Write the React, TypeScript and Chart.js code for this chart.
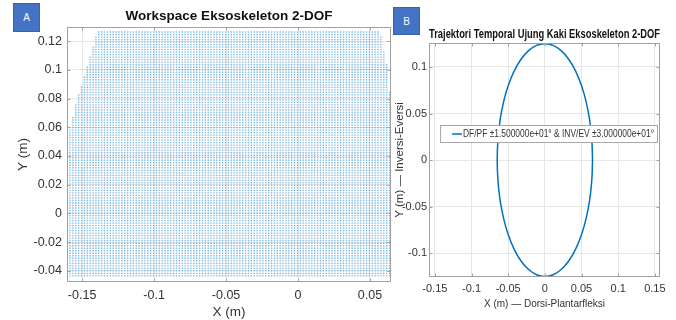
import React, { useEffect, useRef } from "react";
import { Chart, registerables } from "chart.js";
Chart.register(...registerables);

const wsXTicks = [-0.15, -0.1, -0.05, 0, 0.05];
const wsYTicks = [-0.04, -0.02, 0, 0.02, 0.04, 0.06, 0.08, 0.1, 0.12];
const wsRowTop = 0.1263;
const wsRowBottom = -0.0432;
const wsRowStep = 0.00175;
const wsColStart = -0.1624;
const wsColStep = 0.002;
const wsEdgeY = [0.1263, 0.1, 0.08, 0.06, 0.05, -0.05];
const wsEdgeLeftX = [-0.1396, -0.147, -0.1535, -0.1583, -0.1615, -0.1615];
const wsEdgeRightX = [0.057, 0.0625, 0.064, 0.0645, 0.0645, 0.0645];

// ---------- Panel B: foot-tip trajectory ----------
const trajX = [0.065, 0.064, 0.0611, 0.0563, 0.0498, 0.0418, 0.0325, 0.0222, 0.0113, 0, -0.0113, -0.0222, -0.0325, -0.0418, -0.0498, -0.0563, -0.0611, -0.064, -0.065, -0.064, -0.0611, -0.0563, -0.0498, -0.0418, -0.0325, -0.0222, -0.0113, 0, 0.0113, 0.0222, 0.0325, 0.0418, 0.0498, 0.0563, 0.0611, 0.064, 0.065];
const trajY = [0, 0.0217, 0.0428, 0.0625, 0.0803, 0.0958, 0.1083, 0.1175, 0.1231, 0.125, 0.1231, 0.1175, 0.1083, 0.0958, 0.0803, 0.0625, 0.0428, 0.0217, 0, -0.0217, -0.0428, -0.0625, -0.0803, -0.0958, -0.1083, -0.1175, -0.1231, -0.125, -0.1231, -0.1175, -0.1083, -0.0958, -0.0803, -0.0625, -0.0428, -0.0217, 0];
const trajXTicks = [-0.15, -0.1, -0.05, 0, 0.05, 0.1, 0.15];
const trajYTicks = [-0.1, -0.05, 0, 0.05, 0.1];
const trajLabel = "DF/PF ±1.500000e+01° & INV/EV ±3.000000e+01°";

const SANS = "'Liberation Sans', Arial, sans-serif";
const NARROW = "'Liberation Sans Narrow', 'Arial Narrow', 'Liberation Sans', Arial, sans-serif";
const TEXT = "#333333";
const GRID = "#e6e6e6";
const FRAME = "#a0a0a0";

function edgeAt(y: number, xs: number[]) {
  for (let i = 0; i < wsEdgeY.length - 1; i++) {
    const y0 = wsEdgeY[i], y1 = wsEdgeY[i + 1];
    if (y <= y0 && y >= y1) {
      const t = (y - y0) / (y1 - y0);
      return xs[i] + t * (xs[i + 1] - xs[i]);
    }
  }
  return xs[xs.length - 1];
}

function buildWorkspace() {
  const pts: { x: number; y: number }[] = [];
  const nRows = Math.round((wsRowTop - wsRowBottom) / wsRowStep);
  const nCols = Math.round((0.066 - wsColStart) / wsColStep);
  for (let r = 0; r <= nRows; r++) {
    const y = wsRowTop - r * wsRowStep;
    const l = edgeAt(y, wsEdgeLeftX);
    const rt = edgeAt(y, wsEdgeRightX);
    for (let c = 0; c <= nCols; c++) {
      const x = wsColStart + c * wsColStep;
      if (x >= l && x <= rt) pts.push({ x, y });
    }
  }
  return pts;
}

const fmt = (v: any) => String(+Number(v).toFixed(4));

const framePlugin = {
  id: "frame",
  afterDatasetsDraw(chart: any) {
    const { ctx, chartArea: a, scales } = chart;
    const L = Math.round(a.left) + 0.5, R = Math.round(a.right) - 0.5;
    const T = Math.round(a.top) + 0.5, B = Math.round(a.bottom) - 0.5;
    ctx.save();
    ctx.strokeStyle = FRAME;
    ctx.lineWidth = 1;
    ctx.strokeRect(L, T, R - L, B - T);
    const tl = 3;
    ctx.beginPath();
    scales.x.ticks.forEach((t: any) => {
      const px = Math.round(scales.x.getPixelForValue(t.value)) + 0.5;
      ctx.moveTo(px, B); ctx.lineTo(px, B - tl);
      ctx.moveTo(px, T); ctx.lineTo(px, T + tl);
    });
    scales.y.ticks.forEach((t: any) => {
      const py = Math.round(scales.y.getPixelForValue(t.value)) + 0.5;
      ctx.moveTo(L, py); ctx.lineTo(L + tl, py);
      ctx.moveTo(R, py); ctx.lineTo(R - tl, py);
    });
    ctx.stroke();
    ctx.restore();
  },
};

const insideLegend = {
  id: "insideLegend",
  afterDraw(chart: any) {
    const { ctx, chartArea: a } = chart;
    const ds = chart.data.datasets[0];
    const x = Math.round(a.left) + 11, y = Math.round(a.top) + 82, w = 217, h = 17;
    ctx.save();
    ctx.fillStyle = "#ffffff";
    ctx.fillRect(x, y, w, h);
    ctx.strokeStyle = "#a8a8a8";
    ctx.lineWidth = 1;
    ctx.strokeRect(x + 0.5, y + 0.5, w, h);
    ctx.strokeStyle = ds.borderColor;
    ctx.lineWidth = 1.5;
    ctx.beginPath();
    ctx.moveTo(x + 12, y + h / 2 + 0.5);
    ctx.lineTo(x + 22, y + h / 2 + 0.5);
    ctx.stroke();
    ctx.fillStyle = TEXT;
    ctx.font = `10px ${NARROW}`;
    ctx.textBaseline = "middle";
    ctx.textAlign = "left";
    ctx.fillText(ds.label, x + 23, y + h / 2 + 1, 191);
    ctx.restore();
  },
};

function WorkspaceChart() {
  const ref = useRef<HTMLCanvasElement>(null);
  useEffect(() => {
    const chart = new Chart(ref.current as HTMLCanvasElement, {
      type: "scatter",
      data: {
        datasets: [
          {
            label: "Workspace",
            data: buildWorkspace(),
            pointStyle: "rect",
            pointRadius: 0.95,
            pointHoverRadius: 0,
            pointBorderWidth: 0,
            backgroundColor: "rgba(30,135,205,0.62)",
            borderColor: "rgba(0,0,0,0)",
          } as any,
        ],
      },
      options: {
        animation: false,
        responsive: false,
        devicePixelRatio: 1,
        parsing: false,
        normalized: true,
        events: [],
        layout: { padding: { left: 0, right: 4, top: 0, bottom: 0 } },
        plugins: {
          legend: { display: false },
          tooltip: { enabled: false },
          title: {
            display: true,
            text: "Workspace Eksoskeleton 2-DOF",
            fullSize: false,
            color: "#111111",
            font: { family: SANS, size: 13.5, weight: "bold" },
            padding: { top: 8, bottom: 2.8 },
          },
        },
        scales: {
          x: {
            type: "linear",
            min: -0.1605,
            max: 0.0646,
            afterBuildTicks: (s: any) => { s.ticks = wsXTicks.map((v) => ({ value: v })); },
            afterFit: (s: any) => { s.height = 38; },
            grid: { color: GRID, drawTicks: false },
            border: { display: false },
            ticks: { color: TEXT, padding: 6, font: { family: SANS, size: 12.5 }, callback: fmt, maxRotation: 0 },
            title: { display: true, text: "X (m)", color: TEXT, font: { family: SANS, size: 13.5 }, padding: { top: 0, bottom: 0 } },
          },
          y: {
            type: "linear",
            min: -0.0477,
            max: 0.1298,
            afterBuildTicks: (s: any) => { s.ticks = wsYTicks.map((v) => ({ value: v })); },
            afterFit: (s: any) => { s.width = 67; },
            grid: { color: GRID, drawTicks: false },
            border: { display: false },
            ticks: { color: TEXT, padding: 5, font: { family: SANS, size: 12.5 }, callback: fmt },
            title: { display: true, text: "Y (m)", color: TEXT, font: { family: SANS, size: 13.5 }, padding: { top: 15, bottom: 0 } },
          },
        },
      } as any,
      plugins: [framePlugin],
    });
    return () => chart.destroy();
  }, []);
  return <canvas ref={ref} width={395} height={320} style={{ width: 395, height: 320, display: "block" }} />;
}

function TrajectoryChart() {
  const ref = useRef<HTMLCanvasElement>(null);
  useEffect(() => {
    const chart = new Chart(ref.current as HTMLCanvasElement, {
      type: "scatter",
      data: {
        datasets: [
          {
            label: trajLabel,
            data: trajX.map((x, i) => ({ x, y: trajY[i] })),
            showLine: true,
            tension: 0.4,
            borderColor: "#0072BD",
            borderWidth: 1.5,
            pointRadius: 0,
            pointHoverRadius: 0,
            fill: false,
          } as any,
        ],
      },
      options: {
        animation: false,
        responsive: false,
        devicePixelRatio: 1,
        events: [],
        layout: { padding: { left: 0, right: 16, top: 0, bottom: 0 } },
        plugins: {
          legend: { display: false },
          tooltip: { enabled: false },
          title: {
            display: true,
            text: "Trajektori Temporal Ujung Kaki Eksoskeleton 2-DOF",
            fullSize: false,
            color: "#111111",
            font: { family: NARROW, size: 12, weight: "bold" },
            padding: { top: 27.2, bottom: 1.4 },
          },
        },
        scales: {
          x: {
            type: "linear",
            min: -0.158,
            max: 0.157,
            afterBuildTicks: (s: any) => { s.ticks = trajXTicks.map((v) => ({ value: v })); },
            afterFit: (s: any) => { s.height = 43; },
            grid: { color: GRID, drawTicks: false },
            border: { display: false },
            ticks: { color: TEXT, padding: 5, font: { family: NARROW, size: 11 }, callback: fmt, maxRotation: 0 },
            title: { display: true, text: "X (m) — Dorsi-Plantarfleksi", color: TEXT, font: { family: SANS, size: 10 }, padding: { top: 0, bottom: 10 } },
          },
          y: {
            type: "linear",
            min: -0.1255,
            max: 0.1257,
            afterBuildTicks: (s: any) => { s.ticks = trajYTicks.map((v) => ({ value: v })); },
            afterFit: (s: any) => { s.width = 39; },
            grid: { color: GRID, drawTicks: false },
            border: { display: false },
            ticks: { color: TEXT, padding: 2, font: { family: NARROW, size: 11 }, callback: fmt },
            title: { display: true, text: "Y (m) — Inversi-Eversi", color: TEXT, font: { family: SANS, size: 11.5 }, padding: { top: 3, bottom: 0 } },
          },
        },
      } as any,
      plugins: [framePlugin, insideLegend],
    });
    return () => chart.destroy();
  }, []);
  return <canvas ref={ref} width={286} height={320} style={{ width: 286, height: 320, display: "block" }} />;
}

const badge: React.CSSProperties = {
  position: "absolute",
  background: "#4472C4",
  border: "1px solid #3a62a8",
  boxSizing: "border-box",
  color: "#ffffff",
  fontFamily: SANS,
  fontSize: 10,
  display: "flex",
  alignItems: "center",
  justifyContent: "center",
  zIndex: 3,
};

export default function App() {
  return (
    <div style={{ position: "fixed", left: 0, top: 0, width: 676, height: 320, background: "#ffffff", overflow: "hidden" }}>
      <div style={{ position: "absolute", left: 0, top: 0, zIndex: 1 }}>
        <WorkspaceChart />
      </div>
      <div style={{ position: "absolute", left: 390, top: 0, zIndex: 2 }}>
        <TrajectoryChart />
      </div>
      <div style={{ ...badge, left: 13, top: 3, width: 27, height: 29 }}>A</div>
      <div style={{ ...badge, left: 393, top: 7, width: 27, height: 28 }}>B</div>
    </div>
  );
}
